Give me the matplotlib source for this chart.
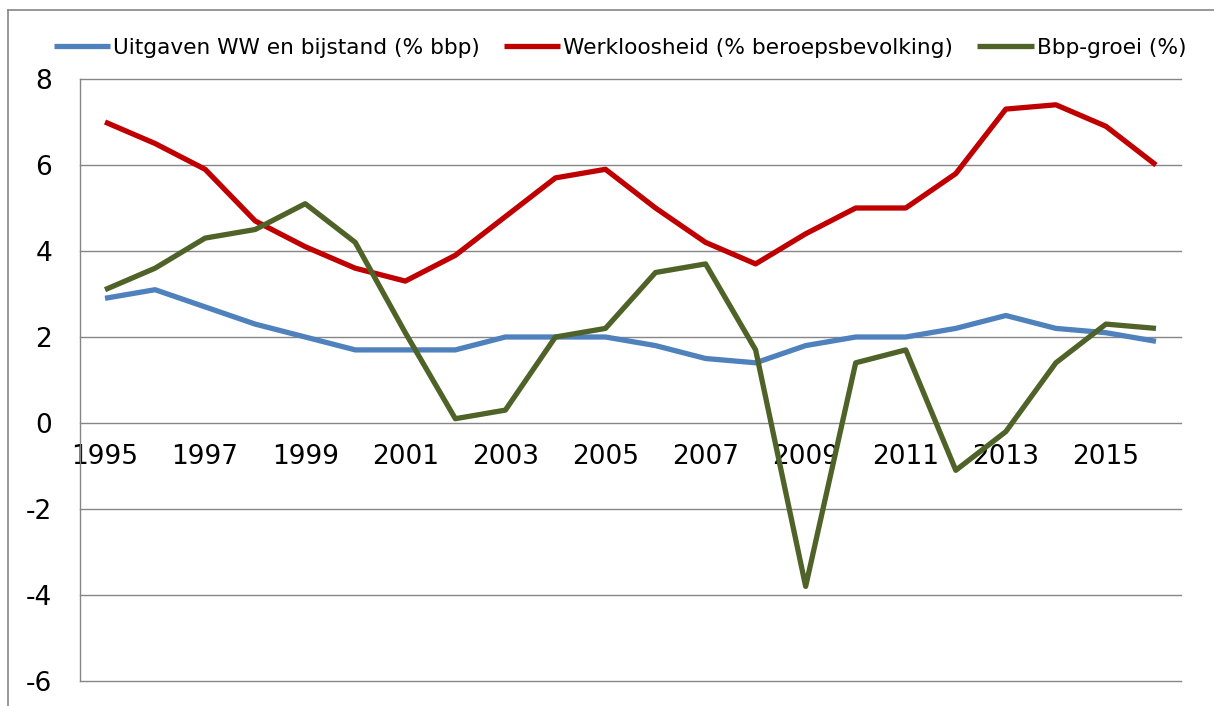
import matplotlib
matplotlib.use("Agg")
import matplotlib.pyplot as plt
from matplotlib.lines import Line2D

years = list(range(1995, 2017))
uitgaven = [2.9, 3.1, 2.7, 2.3, 2.0, 1.7, 1.7, 1.7, 2.0, 2.0, 2.0, 1.8, 1.5, 1.4, 1.8, 2.0, 2.0, 2.2, 2.5, 2.2, 2.1, 1.9]
werkloosheid = [7.0, 6.5, 5.9, 4.7, 4.1, 3.6, 3.3, 3.9, 4.8, 5.7, 5.9, 5.0, 4.2, 3.7, 4.4, 5.0, 5.0, 5.8, 7.3, 7.4, 6.9, 6.0]
bbp_groei = [3.1, 3.6, 4.3, 4.5, 5.1, 4.2, 2.1, 0.1, 0.3, 2.0, 2.2, 3.5, 3.7, 1.7, -3.8, 1.4, 1.7, -1.1, -0.2, 1.4, 2.3, 2.2]
labels = ["Uitgaven WW en bijstand (% bbp)", "Werkloosheid (% beroepsbevolking)", "Bbp-groei (%)"]
colors = ["#4F81BD", "#C00000", "#4F6228"]
yticks = [-6, -4, -2, 0, 2, 4, 6, 8]

plt.rcParams['font.family'] = ['DejaVu Sans']
fig = plt.figure(figsize=(12.14, 7.06), dpi=100)
ax = fig.add_axes([80/1214, 1 - 681/706, (1181-80)/1214, (681-79)/706])

x = list(range(len(years)))
for series, lab, col in zip([uitgaven, werkloosheid, bbp_groei], labels, colors):
    ax.plot(x, series, color=col, lw=3.8, label=lab, solid_joinstyle='round', solid_capstyle='butt', zorder=3)

ax.set_xlim(-0.5, len(years) - 0.5)
ax.set_ylim(-6, 8)
ax.spines['bottom'].set_position(('data', 0))
ax.spines['bottom'].set_visible(False)
ax.spines['top'].set_visible(False)
ax.spines['right'].set_visible(False)
ax.spines['left'].set_color("#868686")
ax.spines['left'].set_linewidth(1.0)

ax.set_yticks(yticks)
ax.set_yticklabels([str(v) for v in yticks])
ax.set_xticks(x[::2])
ax.set_xticklabels([str(y) for y in years[::2]])
ax.tick_params(axis='x', length=0, pad=15, labelsize=19)
ax.tick_params(axis='y', length=0, pad=20, labelsize=19)
for v in yticks:
    ax.axhline(v, color="#868686", lw=1.0, zorder=1, clip_on=False)

leg = fig.legend(loc='center', bbox_to_anchor=(620/1214, 1 - 48/706), ncol=3, frameon=False,
                 fontsize=15.6, handlelength=2.6, handletextpad=0.15, columnspacing=1.1)

fig.add_artist(Line2D([8/1214, 8/1214], [0, 1 - 10/706], color="#868686", lw=1.2))
fig.add_artist(Line2D([8/1214, 1], [1 - 10/706, 1 - 10/706], color="#868686", lw=1.2))

fig.savefig("out.png", dpi=100)
